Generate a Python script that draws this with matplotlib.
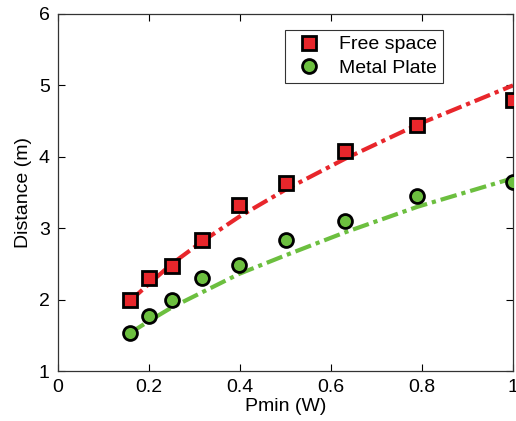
import matplotlib
matplotlib.use("Agg")
import matplotlib.pyplot as plt

plt.rcParams['font.family'] = ['Liberation Sans', 'DejaVu Sans']

pmin = [0.158, 0.2, 0.25, 0.316, 0.398, 0.5, 0.63, 0.79, 1.0]
free_space = [2.0, 2.3, 2.47, 2.83, 3.32, 3.63, 4.08, 4.45, 4.8]
metal_plate = [1.53, 1.77, 1.99, 2.3, 2.49, 2.83, 3.1, 3.45, 3.65]

fit_x = [0.158, 0.2, 0.25, 0.316, 0.398, 0.5, 0.63, 0.79, 1.0]
fit_free = [1.98, 2.22, 2.5, 2.81, 3.16, 3.54, 3.97, 4.45, 5.0]
fit_metal = [1.53, 1.70, 1.89, 2.10, 2.36, 2.62, 2.94, 3.30, 3.70]

red = '#e8262b'
green = '#6cbf3f'

fig = plt.figure(figsize=(5.16, 4.21), dpi=100)
ax = fig.add_axes([58/516, 1 - 371/421, 455/516, 357/421])

ax.plot(fit_x, fit_free, color=red, lw=3, ls=(0, (4, 1.2, 1, 1.2)), zorder=2)
ax.plot(fit_x, fit_metal, color=green, lw=3, ls=(0, (4, 1.2, 1, 1.2)), zorder=2)

ax.plot(pmin, free_space, ls='none', marker='s', ms=10, mfc=red, mec='black', mew=2,
        label='Free space', zorder=3)
ax.plot(pmin, metal_plate, ls='none', marker='o', ms=10, mfc=green, mec='black', mew=2,
        label='Metal Plate', zorder=3)

ax.set_xlim(0, 1)
ax.set_ylim(1, 6)
ax.set_xticks([0, 0.2, 0.4, 0.6, 0.8, 1])
ax.set_xticklabels(['0', '0.2', '0.4', '0.6', '0.8', '1'])
ax.set_yticks([1, 2, 3, 4, 5, 6])
ax.tick_params(direction='in', top=True, right=True, labelsize=14, length=5, width=0.8, pad=6)
for s in ax.spines.values():
    s.set_linewidth(0.9)
    s.set_color('#333333')

ax.set_xlabel('Pmin (W)', fontsize=14, labelpad=1)
ax.set_ylabel('Distance (m)', fontsize=14, labelpad=5)

leg = ax.legend(loc='upper left', bbox_to_anchor=((285-58)/455, (371-30)/357),
                fontsize=14, frameon=True, fancybox=False, edgecolor='black',
                handletextpad=0.6, borderpad=0.3, labelspacing=0.3, handlelength=1.9,
                borderaxespad=0)
leg.get_frame().set_linewidth(0.8)

fig.savefig('out.png', dpi=100)
